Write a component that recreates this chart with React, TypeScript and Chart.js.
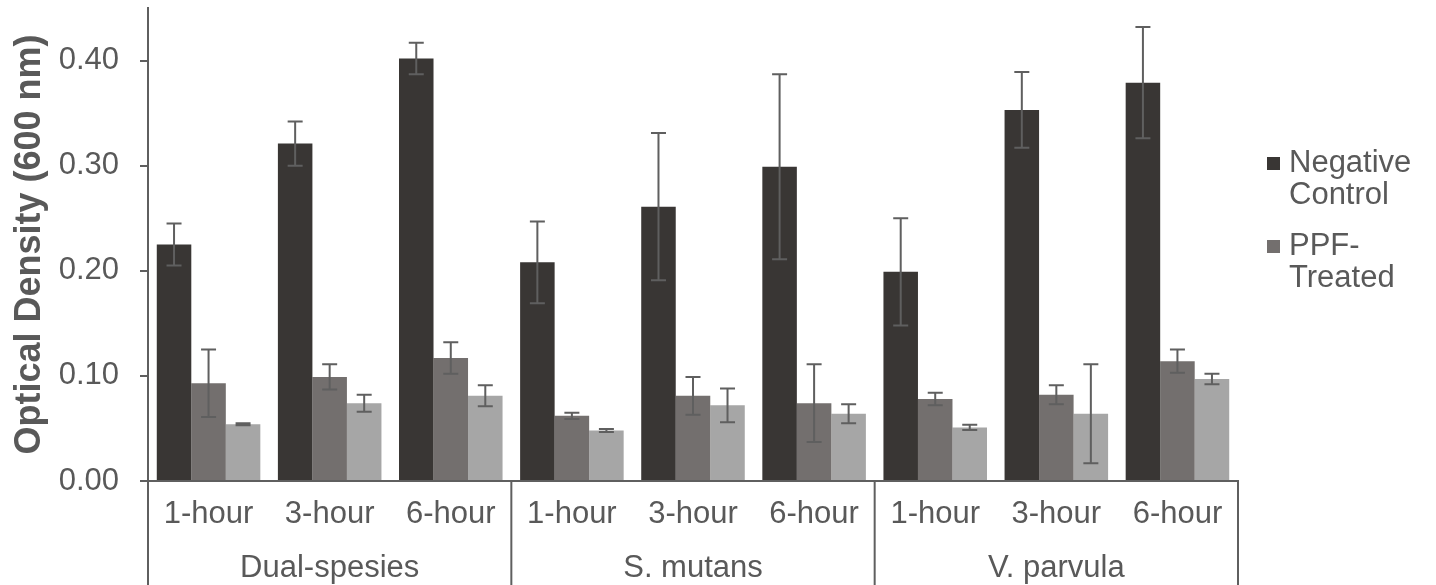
import React, { useEffect, useRef } from "react";
import { Chart, registerables } from "chart.js";

Chart.register(...registerables);

// ---------- data ----------
const timeLabels = ["1-hour", "3-hour", "6-hour", "1-hour", "3-hour", "6-hour", "1-hour", "3-hour", "6-hour"];
const groupNames = ["Dual-spesies", "S. mutans", "V. parvula"];
const groupSize = 3;

const seriesNames = ["Negative Control", "PPF-Treated", "Series 3"];
const legendLines = [["Negative", "Control"], ["PPF-", "Treated"]];

const negativeControl = [0.225, 0.321, 0.402, 0.208, 0.261, 0.299, 0.199, 0.353, 0.379];
const negativeControlErr = [0.02, 0.021, 0.015, 0.039, 0.07, 0.088, 0.051, 0.036, 0.053];
const ppfTreated = [0.093, 0.099, 0.117, 0.062, 0.081, 0.074, 0.078, 0.082, 0.114];
const ppfTreatedErr = [0.032, 0.012, 0.015, 0.003, 0.018, 0.037, 0.006, 0.009, 0.011];
const thirdSeries = [0.054, 0.074, 0.081, 0.048, 0.072, 0.064, 0.051, 0.064, 0.097];
const thirdSeriesErr = [0.001, 0.008, 0.01, 0.0015, 0.016, 0.009, 0.0025, 0.047, 0.005];

const yAxisTitle = "Optical Density (600 nm)";
const yMin = 0;
const yMax = 0.45;
const yStep = 0.1;

// ---------- style ----------
const FONT = "'Liberation Sans', Arial, Helvetica, sans-serif";
const FS = 31;
const TEXT = "#595959";
const AXIS = "#5f5f5f";
const COLORS = ["#393634", "#736f6e", "#a6a6a6"];

const errorSets = [negativeControlErr, ppfTreatedErr, thirdSeriesErr];

const extrasPlugin = {
  id: "extras",
  afterDatasetsDraw(chart: any) {
    const ctx = chart.ctx;
    const yScale = chart.scales.y;
    ctx.save();
    ctx.strokeStyle = AXIS;
    ctx.lineWidth = 2;
    chart.data.datasets.forEach((ds: any, i: number) => {
      const meta = chart.getDatasetMeta(i);
      const errs = errorSets[i];
      meta.data.forEach((el: any, j: number) => {
        const v = ds.data[j];
        const e = errs[j];
        const x = el.x;
        const yt = yScale.getPixelForValue(v + e);
        const yb = yScale.getPixelForValue(v - e);
        const cap = 7.5;
        ctx.beginPath();
        ctx.moveTo(x, yt);
        ctx.lineTo(x, yb);
        ctx.moveTo(x - cap, yt);
        ctx.lineTo(x + cap, yt);
        ctx.moveTo(x - cap, yb);
        ctx.lineTo(x + cap, yb);
        ctx.stroke();
      });
    });
    ctx.restore();
  },
  afterDraw(chart: any) {
    const ctx = chart.ctx;
    const area = chart.chartArea;
    const xScale = chart.scales.x;
    const H = chart.height;
    ctx.save();
    // group separators
    ctx.strokeStyle = AXIS;
    ctx.lineWidth = 2;
    const n = timeLabels.length;
    const bounds: number[] = [];
    for (let g = 0; g <= groupNames.length; g++) {
      const idx = g * groupSize;
      let x;
      if (idx === 0) x = area.left;
      else if (idx >= n) x = area.right;
      else x = (xScale.getPixelForValue(idx - 1) + xScale.getPixelForValue(idx)) / 2;
      bounds.push(x);
      ctx.beginPath();
      ctx.moveTo(x, idx === 0 ? area.top : area.bottom);
      ctx.lineTo(x, H);
      ctx.stroke();
    }
    // group labels
    ctx.fillStyle = TEXT;
    ctx.font = `${FS}px ${FONT}`;
    ctx.textAlign = "center";
    ctx.textBaseline = "alphabetic";
    groupNames.forEach((name, g) => {
      const cx = (bounds[g] + bounds[g + 1]) / 2;
      ctx.fillText(name, cx, 577);
    });
    // legend
    const lx = 1267;
    const tx = 1289;
    const firstBaselines = [172, 255];
    const lineGap = 32;
    ctx.textAlign = "left";
    legendLines.forEach((lines, i) => {
      const b = firstBaselines[i];
      ctx.fillStyle = COLORS[i];
      ctx.fillRect(lx, b - 15, 13, 13);
      ctx.fillStyle = TEXT;
      lines.forEach((t, k) => ctx.fillText(t, tx, b + k * lineGap));
    });
    ctx.restore();
  },
};

export default function App() {
  const ref = useRef<HTMLCanvasElement | null>(null);

  useEffect(() => {
    if (!ref.current) return;
    const values = [negativeControl, ppfTreated, thirdSeries];
    const chart = new Chart(ref.current, {
      type: "bar",
      data: {
        labels: timeLabels,
        datasets: values.map((d, i) => ({
          label: seriesNames[i],
          data: d,
          backgroundColor: COLORS[i],
          borderWidth: 0,
          categoryPercentage: 0.855,
          barPercentage: 1,
        })),
      },
      options: {
        animation: false,
        responsive: false,
        maintainAspectRatio: false,
        layout: { padding: { top: 8, right: 198, left: 0, bottom: 0 } },
        plugins: { legend: { display: false }, tooltip: { enabled: false } },
        scales: {
          x: {
            grid: { display: false, drawTicks: false },
            border: { display: true, color: AXIS, width: 2 },
            ticks: {
              color: TEXT,
              font: { family: FONT, size: FS },
              padding: 15,
              maxRotation: 0,
              autoSkip: false,
            },
            afterFit: (s: any) => {
              s.height = 104;
              s.paddingLeft = 0;
              s.paddingRight = 0;
            },
          },
          y: {
            min: yMin,
            max: yMax,
            ticks: {
              stepSize: yStep,
              includeBounds: false,
              color: TEXT,
              font: { family: FONT, size: FS },
              padding: 21,
              callback: (v: any) => Number(v).toFixed(2),
            },
            grid: { drawOnChartArea: false, drawTicks: true, tickLength: 8, color: AXIS, lineWidth: 2 },
            border: { display: true, color: AXIS, width: 2 },
            title: {
              display: true,
              text: yAxisTitle,
              color: TEXT,
              font: { family: FONT, size: 36, weight: "bold" },
              padding: { top: 8, bottom: 0 },
            },
            afterFit: (s: any) => {
              s.width = 148;
              s.paddingTop = 0;
              s.paddingBottom = 0;
            },
          },
        },
      },
      plugins: [extrasPlugin],
    } as any);
    return () => chart.destroy();
  }, []);

  return (
    <div style={{ position: "absolute", left: 0, top: 0, width: 1436, height: 585, background: "#fff" }}>
      <canvas ref={ref} width={1436} height={585} style={{ display: "block" }} />
    </div>
  );
}
